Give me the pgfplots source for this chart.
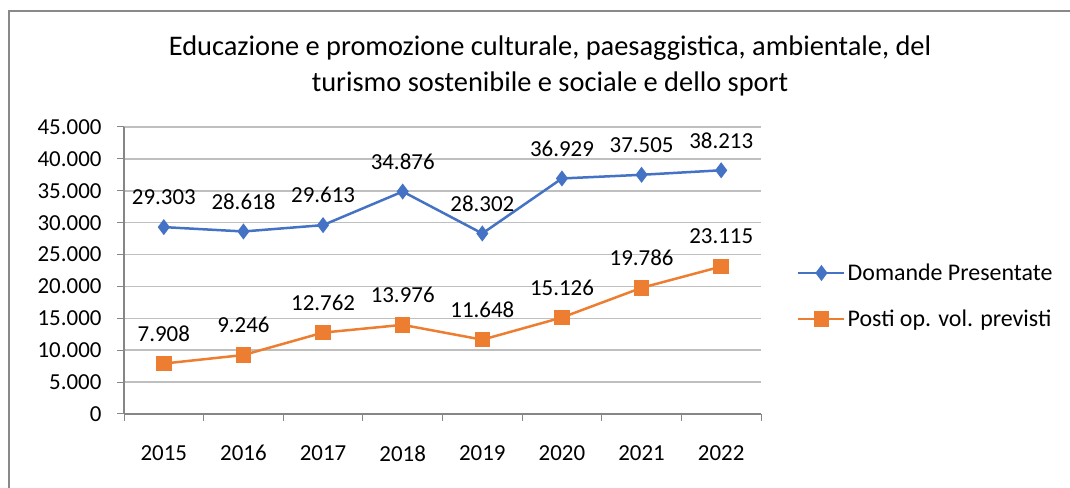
\documentclass[border=0pt]{standalone}
\usepackage{pgfplots}
\pgfplotsset{compat=1.18}
\usepackage{fontspec}
\setmainfont{Carlito}
\definecolor{cblue}{HTML}{4472C4}
\definecolor{corange}{HTML}{ED7D31}
\definecolor{axisgray}{HTML}{868686}
\definecolor{gridgray}{HTML}{BFBFBF}
\definecolor{bordergray}{HTML}{898989}
\begin{document}
\begin{tikzpicture}[x=1bp,y=1bp]
\useasboundingbox (0,0) rectangle (1070,488);
\draw[bordergray, line width=2bp] (9,0) -- (9,477) -- (1071,477);
\node[font=\fontsize{28.5}{36}\selectfont, align=center] at (550,422) {Educazione e promozione culturale, paesaggistica, ambientale, del\\turismo sostenibile e sociale e dello sport};
\begin{axis}[
  at={(124bp,74bp)}, anchor=south west,
  scale only axis, width=637bp, height=287bp,
  xmin=-0.5, xmax=7.5, ymin=0, ymax=45000,
  xtick={0,...,7}, xticklabels={2015,2016,2017,2018,2019,2020,2021,2022},
  minor xtick={-0.5,0.5,...,7.5},
  ytick={0,5000,...,45000},
  scaled y ticks=false,
  axis lines*=left,
  axis line style={color=axisgray, line width=1.5bp},
  tick align=outside,
  major x tick style={draw=none},
  minor tick length=7bp,
  major tick length=7bp,
  minor x tick style={color=axisgray, line width=1bp},
  ytick style={color=axisgray, line width=1bp},
  ymajorgrids,
  major grid style={color=gridgray, line width=1.5bp},
  tick label style={font=\fontsize{23}{27}\selectfont},
  xticklabel style={yshift=-21bp},
  yticklabel style={xshift=-12bp},
  /pgf/number format/.cd, 1000 sep={.}, fixed, precision=0, assume math mode=true,
  /pgfplots/.cd,
  nodes near coords,
  every node near coord/.append style={font=\fontsize{23}{27}\selectfont, text=black, anchor=center, yshift=30bp},
  legend style={at={(1,0.411)}, anchor=west, xshift=36bp, draw=none, fill=none, inner sep=0pt,
    font=\fontsize{24}{28}\selectfont, row sep=24bp},
  legend cell align=left,
  legend image code/.code={\draw[mark repeat=2,mark phase=2,#1] plot coordinates {(0bp,0bp) (23bp,0bp) (46bp,0bp)};},
]
\addplot[color=cblue, line width=2.5bp, mark=diamond*, mark size=6bp, mark options={solid, fill=cblue}]
  coordinates {(0,29303) (1,28618) (2,29613) (3,34876) (4,28302) (5,36929) (6,37505) (7,38213)};
\addlegendentry{Domande Presentate}
\addplot[color=corange, line width=2.5bp, mark=square*, mark size=6.5bp, mark options={solid, fill=corange}]
  coordinates {(0,7908) (1,9246) (2,12762) (3,13976) (4,11648) (5,15126) (6,19786) (7,23115)};
\addlegendentry{Posti op. vol. previsti}
\end{axis}
\end{tikzpicture}
\end{document}
